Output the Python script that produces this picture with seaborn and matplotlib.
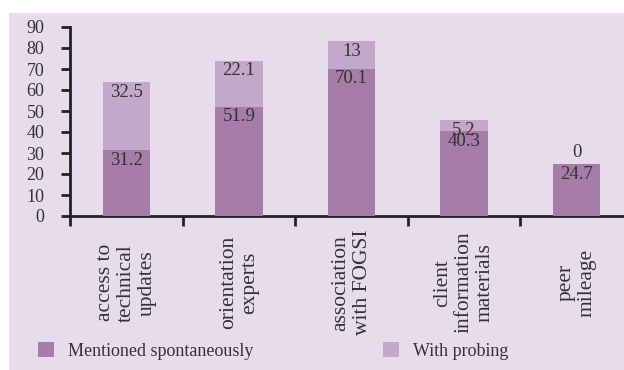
import matplotlib
matplotlib.use("Agg")
import matplotlib.pyplot as plt
from matplotlib.patches import Rectangle, Patch
import numpy as np
import pandas as pd
import seaborn as sns

categories = ["access to\ntechnical\nupdates", "orientation\nexperts",
              "association\nwith FOGSI", "client\ninformation\nmaterials",
              "peer\nmileage"]
spontaneous = [31.2, 51.9, 70.1, 40.3, 24.7]
probing = [32.5, 22.1, 13, 5.2, 0]
yticks = [0, 10, 20, 30, 40, 50, 60, 70, 80, 90]
series_names = ["Mentioned spontaneously", "With probing"]

dark = "#A67CA9"
light = "#C4A8C9"
panel = "#E7DCEB"
axcol = "#222222"
txtcol = "#333333"

sns.set_theme(style="white")
plt.rcParams["font.family"] = ["Liberation Serif", "DejaVu Serif"]

df = pd.DataFrame({"cat": categories, "sp": spontaneous, "pr": probing})
df["total"] = df["sp"] + df["pr"]

fig = plt.figure(figsize=(6.24, 3.70), dpi=100, facecolor="white")
bg = Rectangle((9/624, 0), 1 - 9/624, 357/370,
               transform=fig.transFigure, facecolor=panel,
               edgecolor="none", zorder=-10)
fig.add_artist(bg)
ax = fig.add_axes([70/624, 154/370, 563/624, 189/370])
ax.set_facecolor("none")
ax.set_zorder(1)

sns.barplot(data=df, x="cat", y="total", color=light, width=0.42,
            saturation=1, ax=ax, zorder=2, linewidth=0, edgecolor="none")
sns.barplot(data=df, x="cat", y="sp", color=dark, width=0.42,
            saturation=1, ax=ax, zorder=3, linewidth=0, edgecolor="none")

ax.set_xlim(-0.5, len(categories) - 0.5)
ax.set_ylim(0, 90)
ax.set_yticks(yticks)
ax.set_yticklabels([str(v) for v in yticks], fontsize=13, color=txtcol)
ax.set_xticks(np.arange(len(categories) + 1) - 0.5)
ax.set_xticklabels([])
ax.set_xticks(np.arange(len(categories)), minor=True)
ax.set_xticklabels(categories, minor=True, rotation=90, fontsize=15.5,
                   color=txtcol, va="center", ha="center",
                   multialignment="center", linespacing=1.15)
ax.tick_params(axis="x", which="minor", bottom=True, length=0, pad=48)
ax.tick_params(axis="x", which="major", bottom=True, length=7, width=2,
               color=axcol, direction="out")
ax.tick_params(axis="y", left=True, length=6.5, width=2, color=axcol,
               direction="out", pad=12)
ax.set_xlabel("")
ax.set_ylabel("")
for s in ["top", "right"]:
    ax.spines[s].set_visible(False)
for s in ["left", "bottom"]:
    ax.spines[s].set_color(axcol)
    ax.spines[s].set_linewidth(2)

for i, (s, p) in enumerate(zip(spontaneous, probing)):
    ax.annotate(f"{s:g}", (i, s), xytext=(0, -1), textcoords="offset points",
                ha="center", va="top", fontsize=13.5, color=txtcol, zorder=5)
    if p > 0:
        ax.annotate(f"{p:g}", (i, s + p), xytext=(0, -1),
                    textcoords="offset points", ha="center", va="top",
                    fontsize=13.5, color=txtcol, zorder=5)
    else:
        ax.annotate(f"{p:g}", (i, s + p), xytext=(0, 2),
                    textcoords="offset points", ha="center", va="bottom",
                    fontsize=13.5, color=txtcol, zorder=5)

colors = [dark, light]
anchors_x = [38/624, 383/624]
for name, col, x0 in zip(series_names, colors, anchors_x):
    leg = fig.legend([Patch(facecolor=col, edgecolor="none")], [name],
                     loc="center left", bbox_to_anchor=(x0, 19/370),
                     frameon=False, fontsize=13, handlelength=0.9,
                     handleheight=0.9, handletextpad=0.75, borderpad=0,
                     borderaxespad=0, labelcolor=txtcol)

fig.savefig("out.png", dpi=100, facecolor="white")
